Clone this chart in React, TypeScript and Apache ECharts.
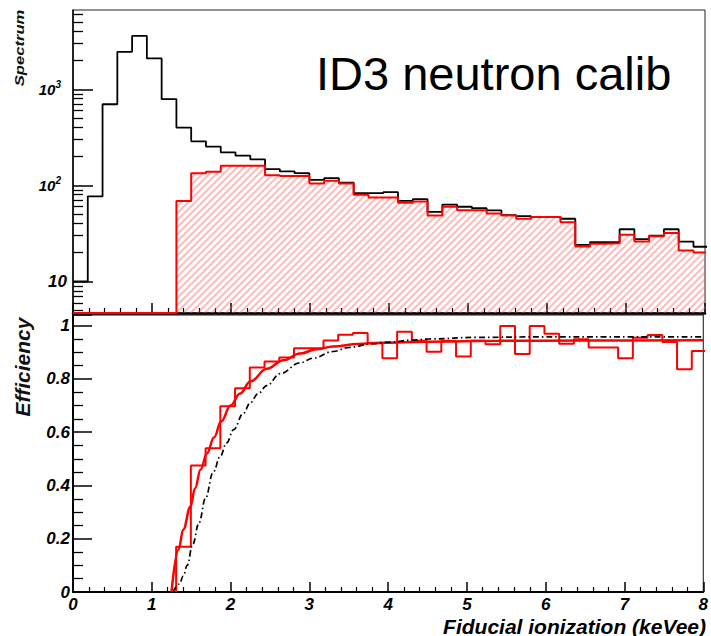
import React, { useEffect, useRef } from 'react';
import * as echarts from 'echarts';

// ---------- data ----------
const BIN_WIDTH = 0.187; // keVee per histogram bin
const X_MIN = 0;
const X_MAX = 8;
const Y_LOG_MIN = 4.7;
const Y_LOG_MAX = 6700;

// all events (black histogram, counts per bin)
const ALL_EVENTS = [10, 77, 700, 2460, 3600, 2100, 790, 400, 288, 254, 221, 204, 187, 148, 140, 134, 114, 119, 107, 83, 83, 85, 69, 72, 53, 63, 60, 58, 55, 49, 48, 47, 47, 45, 24, 25.7, 25.7, 35, 27.6, 30, 35, 26, 23];
// selected events (red hatched histogram)
const SELECTED_EVENTS = [0, 0, 0, 0, 0, 0, 0, 69, 134, 139, 160, 160, 160, 128, 125, 126, 105, 112, 105, 80, 75, 75, 66, 68, 48.5, 60, 55, 55, 51, 48.5, 45, 47, 47, 41.4, 23.1, 24.7, 25, 30.6, 26.1, 29.6, 31.9, 21, 20];
// efficiency per bin (red step histogram)
const EFFICIENCY = [null, null, null, null, null, null, null, 0.17, 0.475, 0.54, 0.697, 0.765, 0.843, 0.865, 0.88, 0.915, 0.915, 0.944, 0.966, 0.972, 0.934, 0.878, 0.977, 0.943, 0.902, 0.943, 0.884, 0.943, 0.93, 0.999, 0.894, 0.999, 0.97, 0.932, 0.949, 0.918, 0.918, 0.878, 0.955, 0.965, 0.939, 0.836, 0.905];
// fitted efficiency (red smooth curve)
const FIT_X = [1.25, 1.34, 1.4, 1.49, 1.55, 1.62, 1.7, 1.79, 1.88, 2.0, 2.12, 2.25, 2.46, 2.67, 2.88, 3.09, 3.3, 3.62, 3.9, 4.5, 5.4, 6.5, 8.0];
const FIT_Y = [0, 0.16, 0.235, 0.32, 0.39, 0.46, 0.52, 0.58, 0.64, 0.7, 0.745, 0.79, 0.838, 0.87, 0.895, 0.911, 0.922, 0.931, 0.936, 0.94, 0.943, 0.944, 0.945];
// black dash-dot efficiency curve
const REF_X = [1.27, 1.35, 1.4, 1.45, 1.52, 1.6, 1.68, 1.78, 1.87, 1.95, 2.04, 2.16, 2.25, 2.35, 2.46, 2.63, 2.88, 3.05, 3.3, 3.5, 3.8, 4.02, 4.3, 4.53, 5.12, 6.0, 8.0];
const REF_Y = [0, 0.03, 0.06, 0.1, 0.18, 0.26, 0.35, 0.45, 0.51, 0.56, 0.61, 0.67, 0.71, 0.745, 0.775, 0.82, 0.86, 0.878, 0.903, 0.918, 0.932, 0.938, 0.946, 0.95, 0.956, 0.958, 0.958];

// tick values
const LOG_MAJOR_TICKS = [10, 100, 1000];
const LOG_MINOR_TICKS = [5, 6, 7, 8, 9, 20, 30, 40, 50, 60, 70, 80, 90, 200, 300, 400, 500, 600, 700, 800, 900, 2000, 3000, 4000, 5000, 6000];
const EFF_MAX = 1.04;

// ---------- helpers ----------
const FONT = "'Liberation Sans', Arial, Helvetica, sans-serif";

function histPoints(values: (number | null)[], startFromZero: boolean) {
  const pts: number[][] = [];
  let started = false;
  values.forEach((v, i) => {
    if (v == null) return;
    if (!started && startFromZero) pts.push([i * BIN_WIDTH, 0]);
    started = true;
    pts.push([i * BIN_WIDTH, v]);
  });
  const last = values.length - 1;
  pts.push([(last + 1) * BIN_WIDTH, values[last] as number]);
  return pts;
}

const labelStyle = {
  fontFamily: FONT,
  fontWeight: 'bold',
  fontStyle: 'italic',
  fontSize: 17,
  color: '#000',
};

function buildOption(): any {
  const selected = SELECTED_EVENTS.map((v) => (v <= 0 ? Y_LOG_MIN : v));
  return {
    animation: false,
    backgroundColor: '#fff',
    grid: [
      { left: 73, right: 6, top: 10, height: 303, show: true, borderColor: '#222', borderWidth: 1, backgroundColor: 'transparent' },
      { left: 73, right: 6, top: 315, height: 277, show: true, borderColor: '#111', borderWidth: 1, backgroundColor: 'transparent' },
    ],
    xAxis: [
      {
        type: 'value', gridIndex: 0, min: X_MIN, max: X_MAX, interval: 1,
        axisLine: { show: true, onZero: false, lineStyle: { color: '#000', width: 2.5 } },
        axisTick: { show: true, inside: true, length: 10, lineStyle: { color: '#000', width: 1.5 } },
        minorTick: { show: true, splitNumber: 5, length: 5, lineStyle: { color: '#000', width: 1.2 } },
        axisLabel: { show: false },
        splitLine: { show: false },
      },
      {
        type: 'value', gridIndex: 1, min: X_MIN, max: X_MAX, interval: 1,
        axisLine: { show: true, onZero: false, lineStyle: { color: '#000', width: 2 } },
        axisTick: { show: true, inside: true, length: 10, lineStyle: { color: '#000', width: 1.5 } },
        minorTick: { show: true, splitNumber: 5, length: 5, lineStyle: { color: '#000', width: 1.2 } },
        axisLabel: { ...labelStyle, margin: 4 },
        splitLine: { show: false },
      },
    ],
    yAxis: [
      {
        type: 'log', logBase: 10, gridIndex: 0, position: 'left', min: Y_LOG_MIN, max: Y_LOG_MAX,
        axisLine: { show: true, lineStyle: { color: '#000', width: 1.5 } },
        axisTick: { show: true, inside: true, length: 20, customValues: LOG_MAJOR_TICKS, lineStyle: { color: '#000', width: 1.5 } },
        axisLabel: {
          customValues: LOG_MAJOR_TICKS,
          margin: 6,
          formatter: (v: number) => {
            const p = Math.round(Math.log10(v));
            return p === 1 ? '{a|10}' : '{b|10}{s|' + p + '}';
          },
          rich: {
            a: { ...labelStyle, fontSize: 17 },
            b: { ...labelStyle, fontSize: 15 },
            s: { ...labelStyle, fontSize: 10, padding: [0, 6, 10, 0] },
          },
        },
        splitLine: { show: false },
      },
      {
        type: 'log', logBase: 10, gridIndex: 0, position: 'left', min: Y_LOG_MIN, max: Y_LOG_MAX,
        axisLine: { show: false },
        axisTick: { show: true, inside: true, length: 10, customValues: LOG_MINOR_TICKS, lineStyle: { color: '#000', width: 1.3 } },
        axisLabel: { show: false },
        splitLine: { show: false },
      },
      {
        type: 'value', gridIndex: 1, min: 0, max: EFF_MAX, interval: 0.2,
        axisLine: { show: true, onZero: false, lineStyle: { color: '#000', width: 2 } },
        axisTick: { show: true, inside: true, length: 19, lineStyle: { color: '#000', width: 1.5 } },
        minorTick: { show: true, splitNumber: 4, length: 10, lineStyle: { color: '#000', width: 1.3 } },
        axisLabel: { ...labelStyle, margin: 3 },
        splitLine: { show: false },
      },
    ],
    series: [
      {
        name: 'all', type: 'line', xAxisIndex: 0, yAxisIndex: 0, step: 'end',
        data: histPoints(ALL_EVENTS, false), showSymbol: false, symbol: 'none',
        lineStyle: { color: '#000', width: 1.8 }, itemStyle: { color: '#000' }, z: 3,
      },
      {
        name: 'selected', type: 'line', xAxisIndex: 0, yAxisIndex: 0, step: 'end',
        data: histPoints(selected, false), showSymbol: false, symbol: 'none',
        lineStyle: { color: '#ff0000', width: 2 },
        itemStyle: {
          color: '#ff0000',
          decal: {
            symbol: 'rect', symbolSize: 1, color: 'rgba(255,80,80,0.4)',
            dashArrayX: [1, 0], dashArrayY: [1.2, 2.6], rotation: -Math.PI / 4,
          },
        },
        areaStyle: { color: 'rgba(255,255,255,0)', opacity: 1, origin: 'start' },
        z: 4,
      },
      {
        name: 'efficiency', type: 'line', xAxisIndex: 1, yAxisIndex: 2, step: 'end',
        data: histPoints(EFFICIENCY, true), showSymbol: false, symbol: 'none',
        lineStyle: { color: '#ff0000', width: 2 }, itemStyle: { color: '#ff0000' }, z: 3,
      },
      {
        name: 'fit', type: 'line', xAxisIndex: 1, yAxisIndex: 2, smooth: 0.4, smoothMonotone: 'x',
        data: FIT_X.map((x, i) => [x, FIT_Y[i]]), showSymbol: false, symbol: 'none',
        lineStyle: { color: '#ff0000', width: 2.5 }, itemStyle: { color: '#ff0000' }, z: 4,
      },
      {
        name: 'reference', type: 'line', xAxisIndex: 1, yAxisIndex: 2, smooth: 0.4, smoothMonotone: 'x',
        data: REF_X.map((x, i) => [x, REF_Y[i]]), showSymbol: false, symbol: 'none',
        lineStyle: { color: '#000', width: 1.7, type: [6, 3, 1.5, 3] }, itemStyle: { color: '#000' }, z: 5,
      },
    ],
    graphic: [
      {
        type: 'text', x: 316, y: 73,
        style: { text: 'ID3 neutron calib', fontFamily: FONT, fontSize: 47, fill: '#000', align: 'left', textAlign: 'left', verticalAlign: 'middle', textVerticalAlign: 'middle' },
      },
      {
        type: 'text', x: 19, y: 48, rotation: Math.PI / 2, scaleX: 1.28,
        style: { text: 'Spectrum', fontFamily: FONT, fontWeight: 'bold', fontStyle: 'italic', fontSize: 13, fill: '#111', align: 'center', textAlign: 'center', verticalAlign: 'middle', textVerticalAlign: 'middle' },
      },
      {
        type: 'text', x: 22, y: 367, rotation: Math.PI / 2,
        style: { text: 'Efficiency', fontFamily: FONT, fontWeight: 'bold', fontStyle: 'italic', fontSize: 21, fill: '#111', align: 'center', textAlign: 'center', verticalAlign: 'middle', textVerticalAlign: 'middle' },
      },
      {
        type: 'text', x: 706, y: 626,
        style: { text: 'Fiducial ionization (keVee)', fontFamily: FONT, fontWeight: 'bold', fontStyle: 'italic', fontSize: 21, fill: '#000', align: 'right', textAlign: 'right', verticalAlign: 'middle', textVerticalAlign: 'middle' },
      },
    ],
  };
}

export default function App() {
  const ref = useRef<HTMLDivElement>(null);
  useEffect(() => {
    if (!ref.current) return;
    const chart = echarts.init(ref.current, null, { renderer: 'svg' });
    chart.setOption(buildOption());
    return () => chart.dispose();
  }, []);
  return (
    <div
      ref={ref}
      style={{ position: 'fixed', left: 0, top: 0, width: 711, height: 636, background: '#fff' }}
    />
  );
}
